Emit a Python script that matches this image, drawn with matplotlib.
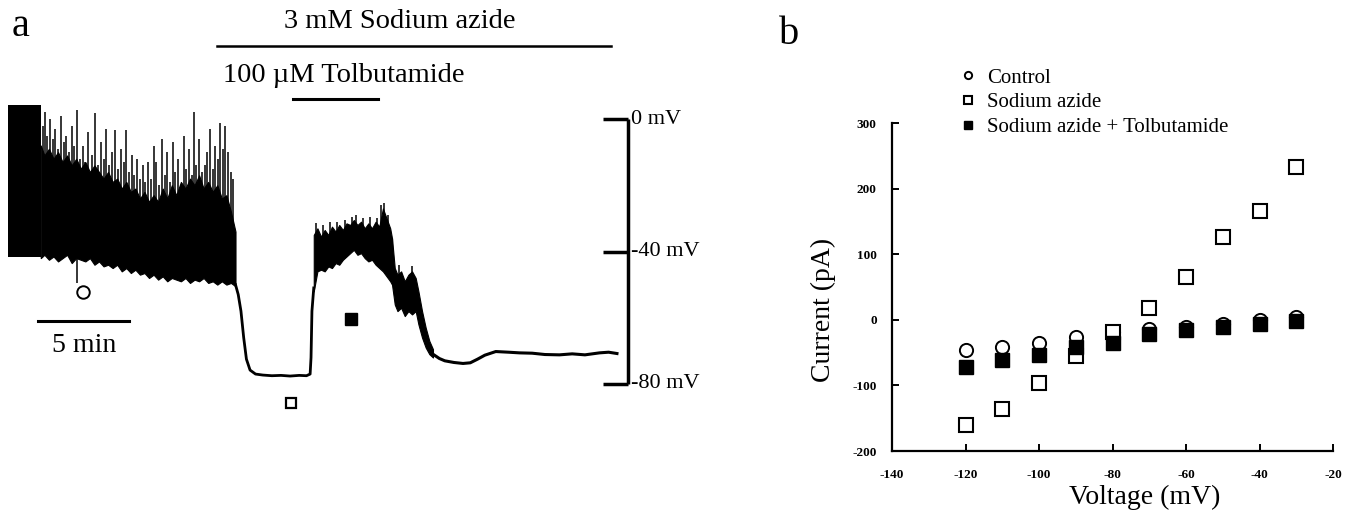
import matplotlib
matplotlib.use("Agg")
import matplotlib.pyplot as plt

plt.rcParams['font.family'] = ['Liberation Serif', 'DejaVu Serif']
plt.rcParams['axes.unicode_minus'] = False

W, H = 1353, 520

# ---- panel a: membrane potential trace (time in min, voltage in mV) ----
block_t = [0.0, 1.8]
block_hi = [4.2, 4.2]
block_lo = [-41.7, -41.7]

fire_t = [1.8, 2.0, 2.25, 2.5, 2.75, 3.0, 3.25, 3.5, 3.75, 4.0, 4.25, 4.5, 4.75,
          5.0, 5.25, 5.5, 5.75, 6.0, 6.25, 6.5, 6.75, 7.0, 7.25, 7.5, 7.75, 8.0,
          8.25, 8.5, 8.75, 9.0, 9.25, 9.5, 9.75, 10.0, 10.25, 10.5, 10.75, 11.0,
          11.25, 11.5, 11.75, 12.0, 12.25, 12.5]
fire_hi = [-8, -11, -9, -12, -10, -13, -11, -14, -12, -15, -13, -16, -14, -16, -18,
           -16, -19, -18, -21, -19, -22, -21, -24, -22, -25, -23, -25, -21, -24,
           -20, -23, -19, -21, -18, -20, -17, -21, -19, -22, -20, -24, -23, -28, -34]
fire_lo = [-42, -41, -42.5, -41.5, -43, -42, -41, -43.5, -42, -42.5, -43, -42, -44,
           -43, -44.5, -44, -45, -44, -46, -45, -46.5, -45.5, -47, -46.5, -48, -47,
           -48.5, -47.5, -49, -48, -48.5, -49, -48, -49.5, -48.5, -49, -48, -49.5,
           -49, -50, -49, -50, -49.5, -50.5]

# spike peaks during firing (control period)
spike_t = [1.9, 2.05, 2.15, 2.3, 2.45, 2.6, 2.75, 2.9, 3.05, 3.2, 3.35, 3.5, 3.65,
           3.8, 3.95, 4.1, 4.25, 4.4, 4.6, 4.8, 4.95, 5.1, 5.25, 5.4, 5.55, 5.7,
           5.9, 6.05, 6.2, 6.35, 6.5, 6.65, 6.8, 6.95, 7.1, 7.25, 7.4, 7.55, 7.7,
           7.85, 8.0, 8.15, 8.3, 8.45, 8.6, 8.75, 8.9, 9.05, 9.2, 9.35, 9.5, 9.65,
           9.8, 9.95, 10.1, 10.2, 10.35, 10.5, 10.65, 10.8, 10.95, 11.1, 11.25,
           11.4, 11.55, 11.65, 11.8, 11.95, 12.1, 12.25, 12.35]
spike_v = [-2, 2, -5, 0, -6, -3, -9, 1, -7, -5, -10, -2, -8, 2.7, -12, -8, -13, -4,
           -11, 1.8, -14, -7, -12, -3, -14, -10, -3.3, -15, -9, -13, -3.3, -16, -11,
           -17, -12, -18, -14, -19, -13, -18, -8, -13, -20, -6, -17, -10, -19, -7,
           -16, -12, -20, -5, -15, -9, -17, 2.2, -14, -6, -16, -14, -10, -3, -15,
           -8, -12, -1.2, -9, -2, -10, -16, -18]

dip_t = [3.8]
dip_v = [-49.5]

drop_t = [12.5, 12.65, 12.8, 12.95, 13.1, 13.3, 13.6, 14.0, 14.5, 15.0, 15.5, 16.0,
          16.4, 16.6, 16.65, 16.7, 16.8]
drop_v = [-50, -53, -58, -66, -72.5, -75.8, -77, -77.3, -77.5, -77.4, -77.6, -77.4,
          -77.5, -77, -72, -58, -51]

tolb_t = [16.8, 17.0, 17.2, 17.4, 17.6, 17.8, 18.0, 18.2, 18.4, 18.6, 18.8, 19.0,
          19.2, 19.4, 19.6, 19.8, 20.0, 20.2, 20.4, 20.6, 20.8, 21.0, 21.1]
tolb_hi = [-35, -33, -35.5, -33.5, -35, -32.5, -34, -32, -33.5, -31.5, -32, -30.5,
           -32, -31, -33, -31.5, -33, -31, -32.5, -27, -30, -33, -36]
tolb_lo = [-52, -46, -45.5, -46, -44.5, -45, -43.5, -44, -42.5, -41.5, -40.5, -39.5,
           -41, -40.5, -42, -43, -42.5, -44, -45, -46, -47.5, -49, -50]

# spike peaks during tolbutamide
tspk_t = [16.95, 17.3, 17.7, 18.1, 18.5, 18.9, 19.1, 19.5, 19.9, 20.3, 20.5, 20.65, 20.9]
tspk_v = [-31.5, -32, -31, -31, -30.5, -29.5, -29, -30, -29.5, -30, -26, -25.4, -29]

dec_t = [21.1, 21.25, 21.4, 21.6, 21.8, 22.0, 22.2, 22.4, 22.55, 22.75, 22.95,
         23.15, 23.35]
dec_hi = [-36, -45, -47, -46, -49, -47, -46, -48, -52, -58, -63, -67, -69.5]
dec_lo = [-50, -56, -58, -57, -59.5, -58, -59, -58, -62, -66, -69, -71, -72]

dspk_t = [21.5, 22.2]
dspk_v = [-44, -44.5]

tail_t = [23.35, 23.7, 24.0, 24.5, 25.0, 25.4, 25.8, 26.2, 26.8, 27.5, 28.1, 28.8,
          29.5, 30.3, 31.0, 31.7, 32.5, 33.0, 33.46]
tail_v = [-71, -72.3, -73, -73.5, -73.8, -73.6, -72.5, -71.3, -70.2, -70.4, -70.6,
          -70.7, -71.1, -71.2, -70.9, -71.2, -70.6, -70.4, -70.8]

# ---- panel b: I-V relation ----
voltage = [-120, -110, -100, -90, -80, -70, -60, -50, -40, -30]
control = [-46, -41, -35, -26, -19, -14, -11, -6, 0, 4]
azide = [-160, -136, -96, -55, -18, 18, 66, 126, 166, 233]
azide_tolb = [-72, -61, -53, -42, -36, -22, -16, -11, -6, -2]

fig = plt.figure(figsize=(W / 100, H / 100), dpi=100)


# panel a axes spans px 0..700 horizontally and the full height
def px_t(px):
    return (px - 8) / 18.2


def py_v(py):
    return -(py - 119) / 3.3125


ax = fig.add_axes([0, 0, 700 / W, 1])
ax.set_xlim(px_t(0), px_t(700))
ax.set_ylim(py_v(520), py_v(0))
ax.axis('off')

ax.fill_between(block_t, block_lo, block_hi, color='black', lw=0)
ax.fill_between(fire_t, fire_lo, fire_hi, color='black', lw=0.8)
ax.vlines(spike_t, -35, spike_v, color='black', lw=1.1)
ax.vlines(dip_t, dip_v, -42, color='black', lw=1.1)
ax.plot(drop_t, drop_v, color='black', lw=2)
ax.fill_between(tolb_t, tolb_lo, tolb_hi, color='black', lw=0.8)
ax.vlines(tspk_t, -36, tspk_v, color='black', lw=1.1)
ax.fill_between(dec_t, dec_lo, dec_hi, color='black', lw=0.8)
ax.vlines(dspk_t, -50, dspk_v, color='black', lw=1.1)
ax.plot(tail_t, tail_v, color='black', lw=2.2)

# voltage scale bar
bar_t = px_t(628)
ax.plot([bar_t, bar_t], [0, -80], color='black', lw=2.5, solid_capstyle='butt')
for mv in [0, -40, -80]:
    ax.plot([px_t(603), bar_t], [mv, mv], color='black', lw=2.5, solid_capstyle='butt')
    ax.text(px_t(631), mv, f'{mv} mV', ha='left', va='center', fontsize=16)

# time scale bar
ax.plot([px_t(38), px_t(129)], [py_v(321)] * 2, color='black', lw=2.2)
ax.text(px_t(84), py_v(345), '5 min', ha='center', va='center', fontsize=20)

# drug application bars
ax.plot([px_t(217), px_t(611)], [py_v(46)] * 2, color='black', lw=1.8)
ax.text(px_t(400), py_v(22), '3 mM Sodium azide', ha='center', va='center', fontsize=20.5)
ax.plot([px_t(293), px_t(378)], [py_v(99)] * 2, color='black', lw=2.2)
ax.text(px_t(223), py_v(76), '100 \u00b5M Tolbutamide', ha='left', va='center', fontsize=20.5)

# condition markers
ax.plot(px_t(83), py_v(292), 'o', ms=9, mfc='white', mec='black', mew=1.4)
ax.plot(px_t(291), py_v(403), 's', ms=7.5, mfc='white', mec='black', mew=1.6)
ax.plot(px_t(351), py_v(319), 's', ms=9, mfc='black', mec='black')

fig.text(21 / W, 1 - 27 / H, 'a', fontsize=29, ha='center', va='center')
fig.text(789 / W, 1 - 34 / H, 'b', fontsize=29, ha='center', va='center')

# ---- panel b axes ----
bx = fig.add_axes([892 / W, 1 - 451 / H, (1333 - 892) / W, (451 - 123) / H])
bx.set_xlim(-140, -20)
bx.set_ylim(-200, 300)
for s in ['top', 'right']:
    bx.spines[s].set_visible(False)
for s in ['left', 'bottom']:
    bx.spines[s].set_linewidth(1.6)
bx.set_xticks(range(-140, -19, 20))
bx.set_yticks(range(-200, 301, 100))
bx.tick_params(direction='in', length=5, width=1.4, labelsize=9.5)
bx.tick_params(axis='x', pad=13)
bx.tick_params(axis='y', pad=11)
for lbl in bx.get_xticklabels() + bx.get_yticklabels():
    lbl.set_fontweight('bold')

bx.plot(voltage, control, 'o', ms=9.5, mfc='white', mec='black', mew=1.4,
        clip_on=False, label='Control')
bx.plot(voltage, azide, 's', ms=10.5, mfc='white', mec='black', mew=1.5,
        clip_on=False, label='Sodium azide')
bx.plot(voltage, azide_tolb, 's', ms=10.5, mfc='black', mec='black',
        clip_on=False, label='Sodium azide + Tolbutamide')

fig.text(1145 / W, 1 - 497 / H, 'Voltage (mV)', fontsize=20, ha='center', va='center')
fig.text(823 / W, 1 - 310 / H, 'Current (pA)', fontsize=20, ha='center',
         va='center', rotation=90)

bx.legend(loc='upper left', bbox_to_anchor=(958 / W, 1 - 68 / H),
          bbox_transform=fig.transFigure, frameon=False, fontsize=15,
          markerscale=0.55, handlelength=1, handletextpad=0.4,
          labelspacing=0.25, borderpad=0, borderaxespad=0)

fig.savefig('out.png', dpi=100)
